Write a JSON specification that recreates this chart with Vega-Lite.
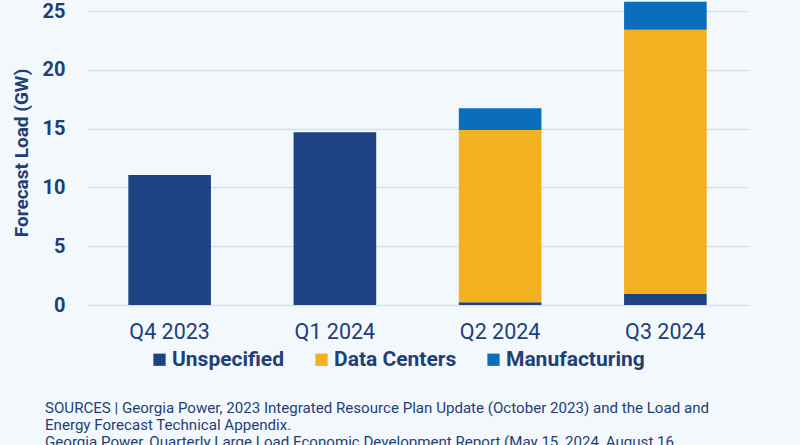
{
  "$schema": "https://vega.github.io/schema/vega-lite/v6.json",
  "width": 661,
  "height": 305,
  "autosize": {"type": "none"},
  "padding": {"left": 87, "top": 0, "right": 52, "bottom": 140},
  "background": "#f2f8fc",
  "config": {
    "view": {"stroke": null},
    "font": "Roboto"
  },
  "title": {
    "text": [
      "SOURCES  |  Georgia Power, 2023 Integrated Resource Plan Update (October 2023) and the Load and",
      "Energy Forecast Technical Appendix.",
      "\u2002\u2002Georgia Power, Quarterly Large Load Economic Development Report (May 15, 2024, August 16,"
    ],
    "orient": "bottom",
    "anchor": "start",
    "frame": "group",
    "dx": -42,
    "offset": 31,
    "font": "Roboto",
    "fontSize": 15.1,
    "fontWeight": "normal",
    "color": "#1f3f78",
    "lineHeight": 17,
    "baseline": "top"
  },
  "data": {
    "values": [
      {"quarter": "Q4 2023", "category": "Unspecified", "ord": 1, "value": 11.05},
      {"quarter": "Q1 2024", "category": "Unspecified", "ord": 1, "value": 14.7},
      {"quarter": "Q2 2024", "category": "Unspecified", "ord": 1, "value": 0.23},
      {"quarter": "Q2 2024", "category": "Data Centers", "ord": 2, "value": 14.65},
      {"quarter": "Q2 2024", "category": "Manufacturing", "ord": 3, "value": 1.85},
      {"quarter": "Q3 2024", "category": "Unspecified", "ord": 1, "value": 0.94},
      {"quarter": "Q3 2024", "category": "Data Centers", "ord": 2, "value": 22.48},
      {"quarter": "Q3 2024", "category": "Manufacturing", "ord": 3, "value": 2.38}
    ]
  },
  "mark": {"type": "bar"},
  "encoding": {
    "x": {
      "field": "quarter",
      "type": "nominal",
      "sort": ["Q4 2023", "Q1 2024", "Q2 2024", "Q3 2024"],
      "scale": {"paddingInner": 0.5, "paddingOuter": 0.25},
      "axis": {
        "title": null,
        "labelAngle": 0,
        "domain": false,
        "ticks": false,
        "labelFontSize": 21.5,
        "labelColor": "#1f3f78",
        "labelPadding": 16,
        "labelFont": "Roboto"
      }
    },
    "y": {
      "field": "value",
      "type": "quantitative",
      "stack": "zero",
      "scale": {"domain": [0, 25.94], "nice": false},
      "axis": {
        "title": "Forecast Load (GW)",
        "titleFontSize": 19,
        "titleFontWeight": "bold",
        "titleColor": "#1f3f78",
        "titlePadding": 11,
        "values": [0, 5, 10, 15, 20, 25],
        "domain": false,
        "ticks": false,
        "labelFontSize": 20,
        "labelFontWeight": "bold",
        "labelColor": "#1f3f78",
        "labelPadding": 22,
        "gridColor": "#d7dfe9",
        "gridWidth": 1.5
      }
    },
    "color": {
      "field": "category",
      "type": "nominal",
      "scale": {
        "domain": ["Unspecified", "Data Centers", "Manufacturing"],
        "range": ["#1d4385", "#f2b121", "#0a6ebd"]
      },
      "legend": {
        "title": null,
        "orient": "none",
        "direction": "horizontal",
        "legendX": 62,
        "legendY": 349,
        "symbolType": "square",
        "symbolSize": 150,
        "symbolStrokeWidth": 0,
        "labelFontSize": 21,
        "labelFontWeight": "bold",
        "labelColor": "#1f3f78",
        "labelOffset": 2,
        "columnPadding": 26,
        "padding": 0
      }
    },
    "order": {"field": "ord", "type": "quantitative"}
  }
}
